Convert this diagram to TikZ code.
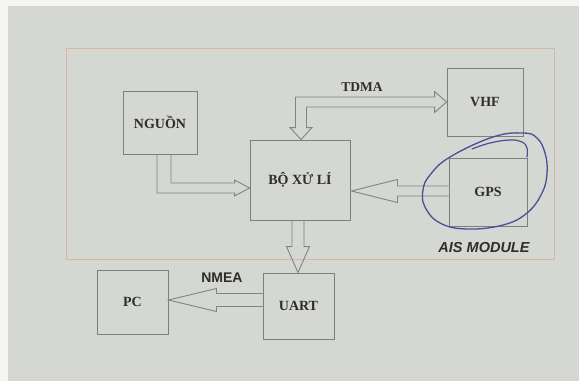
\documentclass[tikz,border=0pt]{standalone}
\usepackage{fontspec}
\setmainfont{Liberation Serif}
\newfontfamily\arialfont{Liberation Sans}
\usetikzlibrary{calc}
\definecolor{paper}{RGB}{213,215,210}
\definecolor{edge}{RGB}{245,245,243}
\definecolor{boxline}{RGB}{125,127,125}
\definecolor{arrline}{RGB}{130,132,130}
\definecolor{frameline}{RGB}{212,184,164}
\definecolor{ink}{RGB}{45,45,45}
\definecolor{pen}{RGB}{78,76,150}
\tikzset{
  blockbox/.style={draw=boxline, line width=0.9, inner sep=0pt, text=ink,
    font=\fontsize{14}{16}\selectfont\bfseries},
  blockarrow/.style={draw=arrline, line width=0.9, line join=miter},
  serlabel/.style={text=ink, inner sep=0pt, font=\fontsize{13.5}{16}\selectfont\bfseries},
  sanslabel/.style={text=ink, inner sep=0pt, font=\arialfont\fontsize{14}{16}\selectfont\bfseries},
}
\begin{document}
\begin{tikzpicture}[x=1pt,y=-1pt]
\useasboundingbox (0,0) rectangle (579,381);
\fill[edge] (0,0) rectangle (579,381);
\fill[paper] (8,6) rectangle (579,381);
% AIS module frame
\draw[frameline, line width=0.8] (66,48) rectangle (554,259);
% boxes
\node[blockbox, minimum width=74, minimum height=63] (ngu) at (160,122.5) {NGUỒN};
\node[blockbox, minimum width=100, minimum height=80] (bo) at (300,180) {BỘ XỬ LÍ};
\node[blockbox, minimum width=76, minimum height=68] (vhf) at (485,102) {VHF};
\node[blockbox, minimum width=78, minimum height=68] (gps) at (488,192) {GPS};
\node[blockbox, minimum width=71, minimum height=64] (pc) at (132.5,302) {PC};
\node[blockbox, minimum width=71, minimum height=66] (uart) at (298.5,306) {UART};
% labels
\node[serlabel] (tdma) at (362,87) {TDMA};
\node[sanslabel] (nmea) at (222,278) {NMEA};
\node[sanslabel, font=\arialfont\fontsize{14.5}{16}\selectfont\bfseries\itshape] (ais) at (484,248) {AIS MODULE};
% TDMA block arrow (bo <-> vhf)
\coordinate (tA) at ($(bo.north)+(1,0)$);
\coordinate (tB) at (vhf.west);
\coordinate (cA) at (tA |- tB);
\draw[blockarrow] ($(cA)+(-5.5,-5)$) -- ($(tB)+(-12,-5)$) -- ($(tB)+(-12,-10.5)$) -- (tB)
  -- ($(tB)+(-12,10.5)$) -- ($(tB)+(-12,5)$) -- ($(cA)+(5.5,5)$) -- ($(tA)+(5.5,-12)$)
  -- ($(tA)+(11,-12)$) -- (tA) -- ($(tA)+(-11,-12)$) -- ($(tA)+(-5.5,-12)$) -- cycle;
% NGUON -> BO
\coordinate (nA) at ($(ngu.south)+(4,0)$);
\coordinate (nT) at ($(bo.west)+(0,8)$);
\coordinate (nC) at (nA |- nT);
\draw[blockarrow] ($(nA)+(-7,0)$) -- ($(nC)+(-7,5)$) -- ($(nT)+(-15,5)$) -- ($(nT)+(-15,8)$)
  -- (nT) -- ($(nT)+(-15,-8)$) -- ($(nT)+(-15,-5)$) -- ($(nC)+(7,-5)$) -- ($(nA)+(7,0)$);
% GPS -> BO
\coordinate (gT) at ($(bo.east)+(1,11)$);
\coordinate (gS) at (gps.west |- gT);
\draw[blockarrow] ($(gS)+(0,-5)$) -- ($(gT)+(46,-5)$) -- ($(gT)+(46,-11.5)$) -- (gT)
  -- ($(gT)+(46,11.5)$) -- ($(gT)+(46,5)$) -- ($(gS)+(0,5)$);
% BO -> UART
\coordinate (dA) at ($(bo.south)+(-2,0)$);
\coordinate (dT) at (dA |- uart.north);
\draw[blockarrow] ($(dA)+(-6,0)$) -- ($(dT)+(-6,-26)$) -- ($(dT)+(-11.5,-26)$) -- (dT)
  -- ($(dT)+(11.5,-26)$) -- ($(dT)+(6,-26)$) -- ($(dA)+(6,0)$);
% UART -> PC
\coordinate (pT) at ($(pc.east)+(0,-2)$);
\coordinate (pS) at (uart.west |- pT);
\draw[blockarrow] ($(pS)+(0,-6.5)$) -- ($(pT)+(48,-6.5)$) -- ($(pT)+(48,-11.5)$) -- (pT)
  -- ($(pT)+(48,11.5)$) -- ($(pT)+(48,6.5)$) -- ($(pS)+(0,6.5)$);
% hand-drawn pen loop around GPS
\draw[pen, line width=1.3, line cap=round] plot[smooth cycle, tension=0.7] coordinates
  {(450,157) (493,137) (523,133) (537,138) (545,153) (547,173) (542,193) (527,213)
   (503,225) (467,229) (440,223) (425,207) (423,190) (430,175)};
\draw[pen, line width=1.2, line cap=round] plot[smooth, tension=0.7] coordinates
  {(472,149) (490,143) (510,140) (522,142) (527,148) (527,157)};
\end{tikzpicture}
\end{document}
